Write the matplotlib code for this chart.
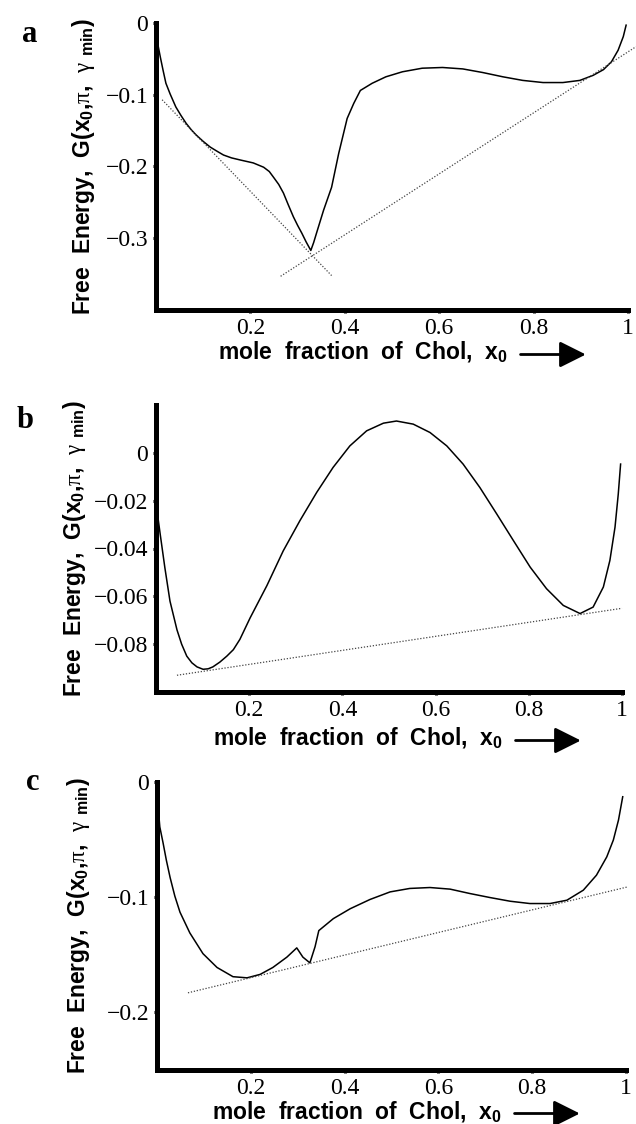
import matplotlib
matplotlib.use("Agg")
import matplotlib.pyplot as plt
from matplotlib.text import OffsetFrom

plt.rcParams['mathtext.fontset'] = 'custom'
plt.rcParams['mathtext.rm'] = 'Liberation Sans:bold'
plt.rcParams['mathtext.bf'] = 'Liberation Sans:bold'
plt.rcParams['mathtext.it'] = 'Liberation Serif'

# ---- panel a: free energy curve and the two tangent lines
a_x = [0.0, 0.004, 0.009, 0.015, 0.021, 0.03, 0.042, 0.053, 0.064, 0.075, 0.085,
       0.10, 0.115, 0.13, 0.143, 0.16, 0.179, 0.206, 0.228, 0.24, 0.249, 0.26,
       0.27, 0.28, 0.291, 0.30, 0.309, 0.318, 0.328, 0.334, 0.34, 0.355, 0.372,
       0.387, 0.405, 0.419, 0.433, 0.458, 0.487, 0.522, 0.564, 0.607, 0.65,
       0.692, 0.735, 0.777, 0.82, 0.862, 0.898, 0.926, 0.948, 0.965, 0.979,
       0.99, 0.996]
a_y = [-0.012, -0.030, -0.047, -0.066, -0.084, -0.099, -0.117, -0.129, -0.140,
       -0.149, -0.156, -0.165, -0.173, -0.179, -0.184, -0.188, -0.191, -0.195,
       -0.201, -0.207, -0.215, -0.225, -0.237, -0.253, -0.270, -0.282, -0.293,
       -0.305, -0.317, -0.306, -0.293, -0.261, -0.229, -0.182, -0.133, -0.112,
       -0.094, -0.084, -0.075, -0.068, -0.063, -0.062, -0.064, -0.069, -0.075,
       -0.080, -0.083, -0.083, -0.080, -0.073, -0.065, -0.054, -0.038, -0.019,
       -0.003]
a_tan1_x = [0.013, 0.372]
a_tan1_y = [-0.107, -0.352]
a_tan2_x = [0.264, 1.017]
a_tan2_y = [-0.353, -0.033]

# ---- panel b
b_x = [0.0, 0.009, 0.019, 0.03, 0.045, 0.055, 0.066, 0.077, 0.088, 0.101, 0.112,
       0.122, 0.137, 0.152, 0.166, 0.18, 0.202, 0.238, 0.273, 0.309, 0.345,
       0.38, 0.416, 0.452, 0.488, 0.516, 0.552, 0.588, 0.624, 0.659, 0.695,
       0.731, 0.767, 0.803, 0.838, 0.874, 0.91, 0.938, 0.96, 0.974, 0.985,
       0.992, 0.997]
b_y = [-0.021, -0.034, -0.048, -0.062, -0.074, -0.080, -0.085, -0.0878, -0.0895,
       -0.0905, -0.0903, -0.0895, -0.0875, -0.085, -0.0823, -0.078, -0.069,
       -0.0555, -0.041, -0.0283, -0.0165, -0.0061, 0.0029, 0.0092, 0.0124,
       0.0133, 0.012, 0.0085, 0.0029, -0.0047, -0.0145, -0.0255, -0.0367,
       -0.0478, -0.0568, -0.0638, -0.0672, -0.0645, -0.0561, -0.045, -0.0311,
       -0.0172, -0.0047]
b_tan_x = [0.045, 1.0]
b_tan_y = [-0.093, -0.065]

# ---- panel c
c_x = [0.0, 0.006, 0.013, 0.02, 0.028, 0.038, 0.049, 0.07, 0.098, 0.128, 0.162,
       0.192, 0.22, 0.247, 0.277, 0.298, 0.311, 0.326, 0.337, 0.345, 0.376,
       0.412, 0.454, 0.497, 0.539, 0.582, 0.625, 0.667, 0.71, 0.753, 0.795,
       0.838, 0.874, 0.909, 0.937, 0.959, 0.973, 0.984, 0.993]
c_y = [-0.010, -0.039, -0.053, -0.068, -0.083, -0.099, -0.113, -0.131, -0.149,
       -0.161, -0.169, -0.170, -0.167, -0.161, -0.152, -0.144, -0.152, -0.157,
       -0.143, -0.129, -0.1186, -0.110, -0.102, -0.0954, -0.0924, -0.0916,
       -0.093, -0.0968, -0.1003, -0.1035, -0.1055, -0.1055, -0.1026, -0.0939,
       -0.0809, -0.065, -0.0504, -0.033, -0.0128]
c_tan_x = [0.066, 1.004]
c_tan_y = [-0.183, -0.091]

x_ticks = [0.2, 0.4, 0.6, 0.8, 1.0]
x_labels = ['0.2', '0.4', '0.6', '0.8', '1']
a_yticks = [0, -0.1, -0.2, -0.3]
a_ylabels = ['0', '\u22120.1', '\u22120.2', '\u22120.3']
b_yticks = [0, -0.02, -0.04, -0.06, -0.08]
b_ylabels = ['0', '\u22120.02', '\u22120.04', '\u22120.06', '\u22120.08']
c_yticks = [0, -0.1, -0.2]
c_ylabels = ['0', '\u22120.1', '\u22120.2']

W, H = 636, 1124
fig = plt.figure(figsize=(6.36, 11.24), dpi=100)

ylab = r'Free  Energy,  G(x$_\mathrm{0}$,$\pi$,  $\gamma$ $_\mathrm{min}$)'
xlab = r'mole  fraction  of  Chol,  x$_\mathrm{0}$'

panels = [
    # letter, box(px: left, top, right, bottom), curve, tangents, ylim, yticks, labels, letter pos, xlabel pos, ylabel x
    ('a', (156, 23, 628, 310), (a_x, a_y), [(a_tan1_x, a_tan1_y), (a_tan2_x, a_tan2_y)],
     (-0.4, 0), a_yticks, a_ylabels, (22, 42), (218, 359), -0.125),
    ('b', (156, 405, 622, 692), (b_x, b_y), [(b_tan_x, b_tan_y)],
     (-0.1, 0.02), b_yticks, b_ylabels, (17, 428), (213, 745), -0.146),
    ('c', (157, 782, 626, 1070), (c_x, c_y), [(c_tan_x, c_tan_y)],
     (-0.25, 0), c_yticks, c_ylabels, (26, 790), (212, 1118), -0.139),
]

for letter, box, curve, tans, ylim, yt, ytl, lpos, xpos, ylx in panels:
    l, t, r, b = box
    ax = fig.add_axes([l / W, 1 - b / H, (r - l) / W, (b - t) / H])
    ax.plot(curve[0], curve[1], color='black', lw=1.1, clip_on=False)
    for tx, ty in tans:
        ax.plot(tx, ty, color='#444444', lw=0.9, linestyle=(0, (1, 1.4)), clip_on=False)
    ax.set_xlim(0, 1)
    ax.set_ylim(*ylim)
    for s in ['top', 'right']:
        ax.spines[s].set_visible(False)
    for s in ['left', 'bottom']:
        ax.spines[s].set_linewidth(3.6)
    ax.set_xticks(x_ticks)
    ax.set_xticklabels(x_labels)
    ax.set_yticks(yt)
    ax.set_yticklabels(ytl)
    ax.tick_params(direction='out', length=2.5, width=2.2, labelsize=17, pad=3)
    for lab in ax.get_xticklabels() + ax.get_yticklabels():
        lab.set_family('Liberation Serif')
    ax.set_ylabel(ylab, fontsize=16.5, fontweight='bold', family='Liberation Sans')
    ax.yaxis.set_label_coords(ylx, 0.5)

    fig.text(lpos[0] / W, 1 - lpos[1] / H, letter, fontsize=22, fontweight='bold',
             family='Liberation Serif', va='baseline')
    txt = fig.text(xpos[0] / W, 1 - xpos[1] / H, xlab, fontsize=16.5, fontweight='bold',
                   family='Liberation Sans', va='baseline', ha='left')
    ax.annotate('', xy=(56, 0), xycoords=OffsetFrom(txt, (1, 0.4), 'points'),
                xytext=(9, 0), textcoords=OffsetFrom(txt, (1, 0.4), 'points'),
                arrowprops=dict(arrowstyle='-|>,head_length=0.8,head_width=0.4',
                                mutation_scale=20, lw=2, color='black',
                                shrinkA=0, shrinkB=0))

fig.savefig('out.png', dpi=100)
